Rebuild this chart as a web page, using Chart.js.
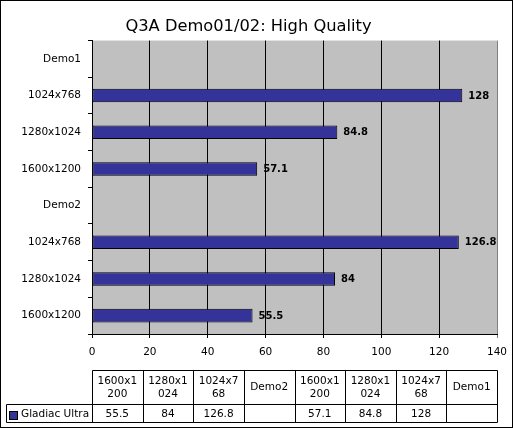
<!DOCTYPE html>
<html>
<head>
<meta charset="utf-8">
<script src="https://cdn.jsdelivr.net/npm/chart.js@4/dist/chart.umd.min.js"></script>
<style>
  html, body { margin: 0; padding: 0; background: #fff; }
  canvas { display: block; }
</style>
</head>
<body>
<canvas id="grafico" width="513" height="428"></canvas>
<script>
// datos, de abajo hacia arriba (mismo orden que la tabla)
const categorias = ['1600x1200', '1280x1024', '1024x768', 'Demo2', '1600x1200', '1280x1024', '1024x768', 'Demo1'];
const gladiacUltra = [55.5, 84, 126.8, null, 57.1, 84.8, 128, null];
const serie = 'Gladiac Ultra';
const titulo = 'Q3A Demo01/02: High Quality';

const fuente = 'DejaVu Sans';
const azul = '#333399';

// fondo blanco, area gris y marco exterior
const fondo = {
  id: 'fondo',
  beforeDraw(chart) {
    const { ctx, chartArea: a } = chart;
    ctx.save();
    ctx.fillStyle = '#fff';
    ctx.fillRect(0, 0, chart.width, chart.height);
    ctx.fillStyle = '#c0c0c0';
    ctx.fillRect(a.left, a.top, a.right - a.left, a.bottom - a.top);
    ctx.restore();
  },
  afterDraw(chart) {
    const ctx = chart.ctx;
    ctx.save();
    ctx.strokeStyle = '#000';
    ctx.lineWidth = 1;
    ctx.strokeRect(0.5, 0.5, chart.width - 1, chart.height - 1);
    ctx.restore();
  }
};

// valores al final de cada barra
const etiquetas = {
  id: 'etiquetas',
  afterDatasetsDraw(chart) {
    const ctx = chart.ctx;
    const meta = chart.getDatasetMeta(0);
    ctx.save();
    ctx.font = 'bold 10px ' + fuente;
    ctx.fillStyle = '#000';
    ctx.textBaseline = 'middle';
    meta.data.forEach((bar, i) => {
      const v = chart.data.datasets[0].data[i];
      if (v === null) return;
      ctx.fillText(String(v), bar.x + 6, bar.y + 0.5);
    });
    ctx.restore();
  }
};

function partir(ctx, texto, max) {
  const lineas = [];
  let actual = '';
  for (const c of texto) {
    if (actual && ctx.measureText(actual + c).width > max) {
      lineas.push(actual);
      actual = c;
    } else {
      actual += c;
    }
  }
  if (actual) lineas.push(actual);
  return lineas;
}

// tabla de datos bajo el grafico
const tabla = {
  id: 'tabla',
  afterDraw(chart) {
    const { ctx, chartArea: a } = chart;
    const n = categorias.length;
    const w = (a.right - a.left) / n;
    const top = 370.5, mid = 404.5, bot = 422.5, izq = 6.5;
    const L = Math.round(a.left) + 0.5, R = Math.round(a.right) + 0.5;
    ctx.save();
    ctx.strokeStyle = '#000';
    ctx.lineWidth = 1;
    ctx.beginPath();
    ctx.moveTo(L, top); ctx.lineTo(R, top);
    ctx.moveTo(izq, mid); ctx.lineTo(R, mid);
    ctx.moveTo(izq, bot); ctx.lineTo(R, bot);
    ctx.moveTo(izq, mid); ctx.lineTo(izq, bot);
    for (let i = 0; i <= n; i++) {
      const x = Math.round(a.left + i * w) + 0.5;
      ctx.moveTo(x, top); ctx.lineTo(x, bot);
    }
    ctx.stroke();

    ctx.font = '10.5px ' + fuente;
    ctx.fillStyle = '#000';
    ctx.textAlign = 'center';
    ctx.textBaseline = 'middle';
    categorias.forEach((c, i) => {
      const cx = a.left + (i + 0.5) * w;
      const lineas = partir(ctx, c, w - 6);
      const y0 = (top + mid) / 2 - (lineas.length - 1) * 6.5;
      lineas.forEach((l, k) => ctx.fillText(l, cx, y0 + k * 13));
      const v = gladiacUltra[i];
      if (v !== null) ctx.fillText(String(v), cx, (mid + bot) / 2 + 0.5);
    });

    // leyenda
    ctx.fillStyle = azul;
    ctx.fillRect(10, 412, 7, 7);
    ctx.strokeRect(9.5, 411.5, 8, 8);
    ctx.fillStyle = '#000';
    ctx.textAlign = 'left';
    ctx.fillText(serie, 21, (mid + bot) / 2 + 0.5);
    ctx.restore();
  }
};

Chart.defaults.font.family = fuente;
Chart.defaults.font.size = 10.5;
Chart.defaults.color = '#000';

new Chart(document.querySelector('#grafico'), {
  type: 'bar',
  data: {
    labels: categorias,
    datasets: [{
      label: serie,
      data: gladiacUltra,
      backgroundColor: azul,
      borderColor: '#000',
      borderWidth: 1,
      borderSkipped: false,
      categoryPercentage: 1,
      barPercentage: 0.37
    }]
  },
  options: {
    indexAxis: 'y',
    responsive: false,
    animation: false,
    layout: { padding: { left: 0, right: 16, top: 0, bottom: 64 } },
    plugins: {
      legend: { display: false },
      tooltip: { enabled: false },
      title: {
        display: true,
        text: titulo,
        color: '#000',
        font: { family: fuente, size: 16.3, weight: 'normal' },
        padding: { top: 17, bottom: 4 }
      }
    },
    scales: {
      x: {
        min: 0,
        max: 140,
        ticks: { stepSize: 20, padding: 8, color: '#000' },
        grid: {
          color: ctx => ctx.tick && ctx.tick.value === 140 ? '#808080' : '#000',
          tickLength: 4,
          lineWidth: 1
        },
        border: { color: '#000' },
        afterFit: s => { s.height = 30; s.paddingLeft = 0; s.paddingRight = 0; }
      },
      y: {
        reverse: true,
        ticks: { padding: 7, color: '#000' },
        grid: {
          offset: true,
          drawOnChartArea: false,
          tickLength: 4,
          color: '#000'
        },
        border: { color: '#000' },
        afterFit: s => { s.width = 92; s.paddingTop = 0; s.paddingBottom = 0; }
      }
    }
  },
  plugins: [fondo, etiquetas, tabla]
});
</script>
</body>
</html>
